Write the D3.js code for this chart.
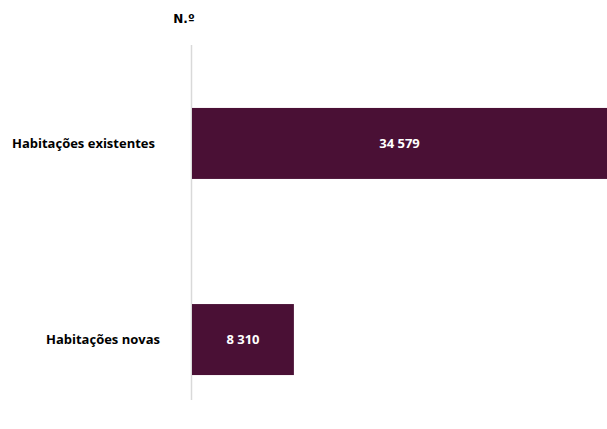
<!DOCTYPE html>
<html><head><meta charset="utf-8">
<script src="https://cdn.jsdelivr.net/npm/d3@7"></script>
<style>body{margin:0;background:#fff}</style>
</head><body>
<script>
const categories = ["Habitações existentes", "Habitações novas"];
const values = [34579, 8310];
const valueLabels = ["34 579", "8 310"];
const unitLabel = "N.º";

const W = 607, H = 429;
const svg = d3.select("body").append("svg").attr("width", W).attr("height", H);
const x = d3.scaleLinear().domain([0, 34579]).range([192, 616]);
const y = d3.scaleBand().domain(categories).range([45, 438]).paddingInner(0.638).paddingOuter(0.321);

svg.append("line").attr("x1", 191.5).attr("x2", 191.5).attr("y1", 45).attr("y2", 400)
  .attr("stroke", "#d9d9d9").attr("stroke-width", 1.5);

svg.selectAll("rect.bar").data(values).enter().append("rect")
  .attr("x", x(0)).attr("y", (d, i) => y(categories[i]))
  .attr("width", d => x(d) - x(0)).attr("height", y.bandwidth())
  .attr("fill", "#4a1035");

const font = "'Open Sans', Lato, sans-serif";
svg.selectAll("text.val").data(values).enter().append("text")
  .attr("x", d => (x(0) + Math.min(x(d), W)) / 2).attr("y", (d, i) => y(categories[i]) + y.bandwidth() / 2)
  .attr("dy", "0.35em").attr("text-anchor", "middle").attr("fill", "#fff")
  .style("font-family", font).style("font-weight", "bold").style("font-size", "13px")
  .text((d, i) => valueLabels[i]);

const rightEnds = [155, 160];
svg.selectAll("text.cat").data(categories).enter().append("text")
  .attr("x", (d, i) => rightEnds[i]).attr("y", d => y(d) + y.bandwidth() / 2)
  .attr("dy", "0.35em").attr("text-anchor", "end").attr("fill", "#000")
  .style("font-family", font).style("font-weight", "bold").style("font-size", "13px")
  .text(d => d);

svg.append("text").attr("x", 184).attr("y", 23).attr("text-anchor", "middle")
  .style("font-family", "'DejaVu Sans', sans-serif").style("font-weight", "bold").style("font-size", "12px")
  .text(unitLabel);
</script>
</body></html>
